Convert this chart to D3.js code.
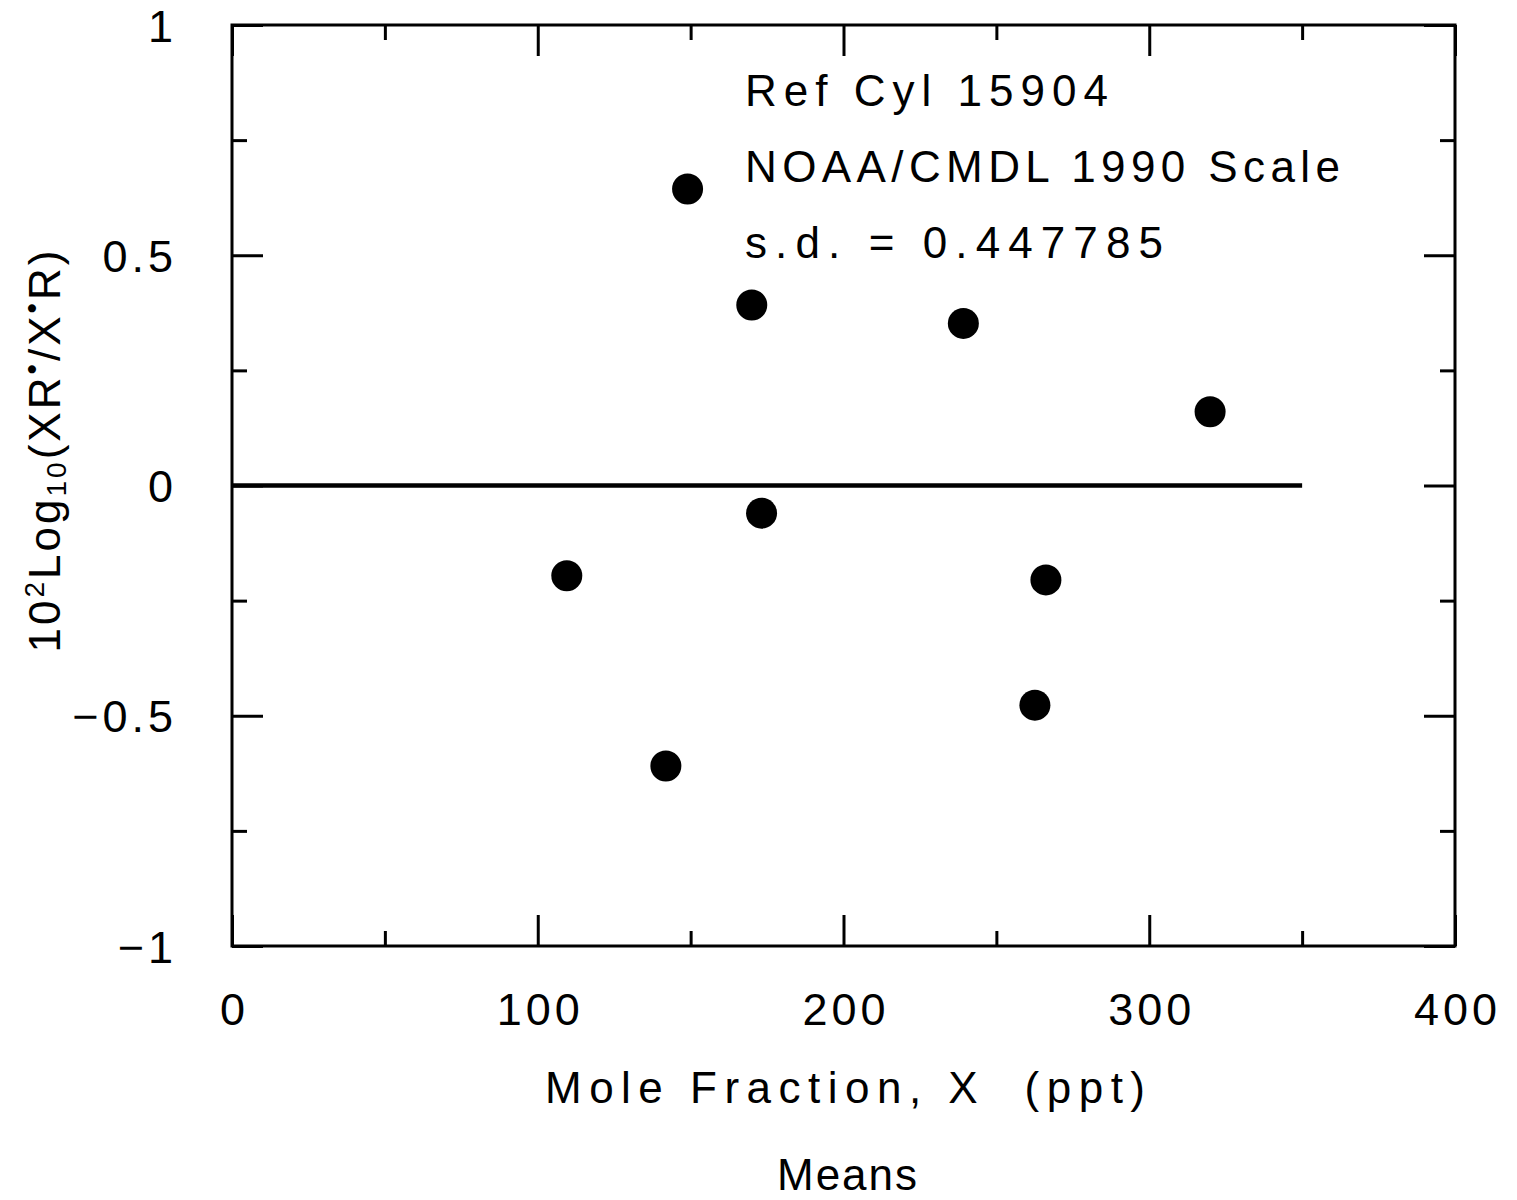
<!DOCTYPE html>
<html>
<head>
<meta charset="utf-8">
<script src="https://cdn.jsdelivr.net/npm/d3@7"></script>
<style>
  html, body { margin: 0; padding: 0; background: #fff; }
  svg { display: block; }
  text { font-family: "Liberation Sans", Arial, sans-serif; fill: #000; }
</style>
</head>
<body>
<svg id="chart" width="1517" height="1200"></svg>
<script>
// ---- data ----
const xValues = [109.5, 141.9, 149.0, 170.0, 173.2, 239.2, 262.6, 266.2, 319.9];
const yValues = [-0.196, -0.609, 0.644, 0.392, -0.060, 0.352, -0.477, -0.205, 0.160];
const xMajorTicks = [0, 100, 200, 300, 400];
const xMinorTicks = [50, 150, 250, 350];
const yMajorTicks = [-1, -0.5, 0, 0.5, 1];
const yMinorTicks = [-0.75, -0.25, 0.25, 0.75];
const zeroLine = [0, 350];
const annotations = ["Ref Cyl 15904", "NOAA/CMDL 1990 Scale", "s.d. = 0.447785"];
const xTitle = "Mole Fraction, X  (ppt)";
const subTitle = "Means";

// ---- layout ----
const L = 232, R = 1455, T = 25, B = 946;
const svg = d3.select("#chart");
const x = d3.scaleLinear().domain([0, 400]).range([L, R]);
const y = d3.scaleLinear().domain([-1, 1]).range([B, T]);
const fmt = v => v === 0 ? "0" : d3.format("")(v).replace("-", "\u2212");

const MAJ = 31, MIN = 15;
function styleAxis(g) {
  g.select(".domain").remove();
  g.selectAll("line").attr("stroke", "#000").attr("stroke-width", 3);
}

// bottom
svg.append("g").attr("transform", `translate(0,${B})`)
  .call(d3.axisBottom(x).tickValues(xMajorTicks).tickSizeInner(-MAJ).tickSizeOuter(0).tickPadding(47).tickFormat(fmt))
  .call(styleAxis)
  .call(g => g.selectAll("text").attr("font-size", 45).attr("font-family", "Liberation Sans").style("letter-spacing", "4px").attr("dx", "2px"));
svg.append("g").attr("transform", `translate(0,${B})`)
  .call(d3.axisBottom(x).tickValues(xMinorTicks).tickSizeInner(-MIN).tickSizeOuter(0).tickFormat(""))
  .call(styleAxis);
// top
svg.append("g").attr("transform", `translate(0,${T})`)
  .call(d3.axisTop(x).tickValues(xMajorTicks).tickSizeInner(-MAJ).tickSizeOuter(0).tickFormat(""))
  .call(styleAxis);
svg.append("g").attr("transform", `translate(0,${T})`)
  .call(d3.axisTop(x).tickValues(xMinorTicks).tickSizeInner(-MIN).tickSizeOuter(0).tickFormat(""))
  .call(styleAxis);
// left
svg.append("g").attr("transform", `translate(${L},0)`)
  .call(d3.axisLeft(y).tickValues(yMajorTicks).tickSizeInner(-MAJ).tickSizeOuter(0).tickPadding(55).tickFormat(fmt))
  .call(styleAxis)
  .call(g => g.selectAll("text").attr("font-size", 45).attr("font-family", "Liberation Sans").style("letter-spacing", "4px").attr("dy", "0.36em"));
svg.append("g").attr("transform", `translate(${L},0)`)
  .call(d3.axisLeft(y).tickValues(yMinorTicks).tickSizeInner(-MIN).tickSizeOuter(0).tickFormat(""))
  .call(styleAxis);
// right
svg.append("g").attr("transform", `translate(${R},0)`)
  .call(d3.axisRight(y).tickValues(yMajorTicks).tickSizeInner(-MAJ).tickSizeOuter(0).tickFormat(""))
  .call(styleAxis);
svg.append("g").attr("transform", `translate(${R},0)`)
  .call(d3.axisRight(y).tickValues(yMinorTicks).tickSizeInner(-MIN).tickSizeOuter(0).tickFormat(""))
  .call(styleAxis);

// frame
svg.append("rect").attr("x", L).attr("y", T).attr("width", R - L).attr("height", B - T)
  .attr("fill", "none").attr("stroke", "#000").attr("stroke-width", 3);

// zero line
svg.append("line")
  .attr("x1", x(zeroLine[0])).attr("x2", x(zeroLine[1]))
  .attr("y1", y(0)).attr("y2", y(0))
  .attr("stroke", "#000").attr("stroke-width", 4.5);

// points
svg.append("g").selectAll("circle")
  .data(xValues.map((v, i) => ({ x: v, y: yValues[i] })))
  .join("circle")
  .attr("cx", d => x(d.x)).attr("cy", d => y(d.y)).attr("r", 15.5)
  .attr("fill", "#000");

// annotations
const annW = [363, 595, 418];
const annBase = [106, 182, 258];
annotations.forEach((t, i) => {
  svg.append("text").attr("x", 745).attr("y", annBase[i])
    .attr("font-size", 44)
    .attr("textLength", annW[i]).attr("lengthAdjust", "spacing")
    .style("white-space", "pre")
    .text(t);
});

// x title
svg.append("text").attr("x", 545).attr("y", 1103).attr("font-size", 44)
  .attr("textLength", 600).attr("lengthAdjust", "spacing")
  .style("white-space", "pre").text(xTitle);
svg.append("text").attr("x", 777).attr("y", 1190).attr("font-size", 44)
  .attr("textLength", 140).attr("lengthAdjust", "spacing")
  .text(subTitle);

// y title
const yt = svg.append("text")
  .attr("transform", "translate(60,450) rotate(-90)")
  .attr("text-anchor", "middle")
  .attr("font-size", 44)
  .style("letter-spacing", "3px");
yt.append("tspan").text("10");
yt.append("tspan").attr("font-size", 28).attr("dy", -16).text("2");
yt.append("tspan").attr("dy", 16).text("Log");
yt.append("tspan").attr("font-size", 28).attr("dy", 6).text("10");
yt.append("tspan").attr("dy", -6).text("(XR");
yt.append("tspan").attr("font-size", 30).attr("dy", -18).text("\u2022");
yt.append("tspan").attr("dy", 18).text("/X");
yt.append("tspan").attr("font-size", 30).attr("dy", -18).text("\u2022");
yt.append("tspan").attr("dy", 18).text("R)");
</script>
</body>
</html>
